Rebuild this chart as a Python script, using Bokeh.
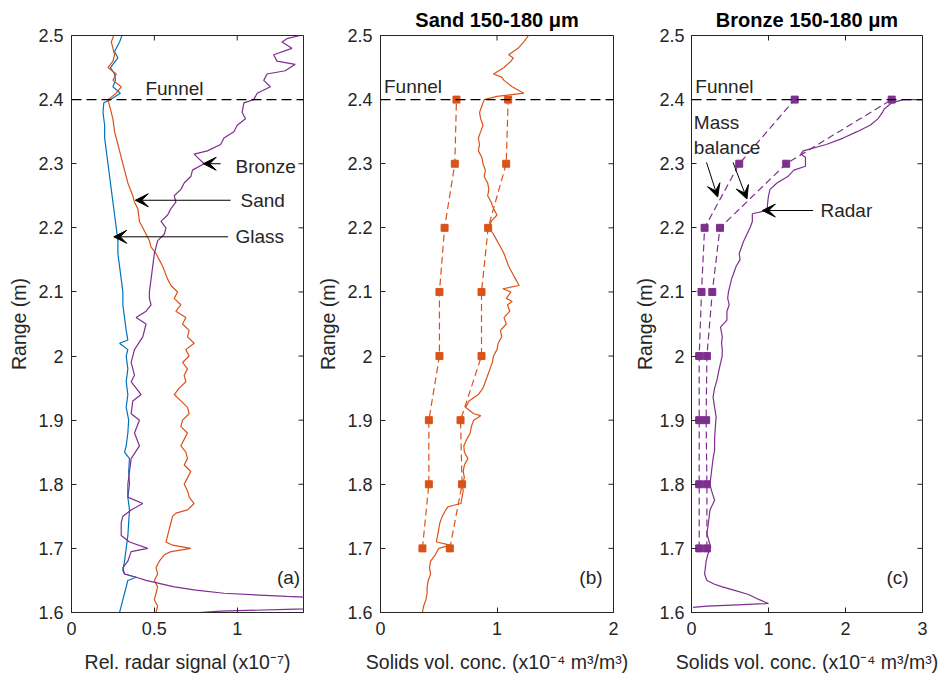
import math
from bokeh.plotting import figure
from bokeh.layouts import row
from bokeh.models import (Range1d, FixedTicker, CustomJSTickFormatter,
                          Arrow, VeeHead, Label, Span)
from bokeh.embed import file_html
from bokeh.resources import INLINE

# ---------------- data ----------------
y_ticks = [1.6, 1.7, 1.8, 1.9, 2.0, 2.1, 2.2, 2.3, 2.4, 2.5]
xa_ticks = [0, 0.5, 1]
xb_ticks = [0, 1, 2]
xc_ticks = [0, 1, 2, 3]
funnel_range = 2.4

# Panel (a): relative radar signal (x1e-7) vs range (m)
glass_y = [2.50, 2.49, 2.475, 2.465, 2.45, 2.44, 2.43, 2.42, 2.41, 2.40, 2.395, 2.38, 2.36, 2.34,
           2.32, 2.30, 2.28, 2.26, 2.24, 2.22, 2.20, 2.18, 2.16, 2.14, 2.12, 2.10, 2.08, 2.06,
           2.04, 2.025, 2.02, 2.01, 2.00, 1.98, 1.96, 1.94, 1.92, 1.90, 1.88, 1.86, 1.85, 1.84,
           1.82, 1.80, 1.78, 1.76, 1.74, 1.72, 1.70, 1.68, 1.665, 1.66, 1.655, 1.65, 1.64,
           1.63, 1.62, 1.61, 1.60]
glass_x = [0.305, 0.29, 0.26, 0.28, 0.235, 0.26, 0.265, 0.25, 0.295, 0.235, 0.195, 0.19, 0.20, 0.20,
           0.21, 0.22, 0.23, 0.24, 0.25, 0.26, 0.27, 0.28, 0.28, 0.29, 0.30, 0.31, 0.31, 0.32,
           0.33, 0.34, 0.29, 0.34, 0.33, 0.34, 0.33, 0.34, 0.33, 0.345, 0.34, 0.33, 0.32, 0.35,
           0.345, 0.35, 0.34, 0.35, 0.345, 0.34, 0.33, 0.32, 0.31, 0.32, 0.39, 0.34, 0.33,
           0.32, 0.31, 0.30, 0.29]

sand_a_y = [2.50, 2.49, 2.48, 2.47, 2.46, 2.45, 2.44, 2.43, 2.42, 2.41, 2.40, 2.39, 2.37, 2.35,
            2.33, 2.31, 2.29, 2.27, 2.25, 2.24, 2.23, 2.21, 2.20, 2.19, 2.18, 2.17, 2.16, 2.15,
            2.14, 2.12, 2.11, 2.10, 2.09, 2.08, 2.07, 2.06, 2.05, 2.04, 2.03, 2.02, 2.01, 2.00,
            1.99, 1.98, 1.97, 1.96, 1.95, 1.94, 1.93, 1.92, 1.91, 1.90, 1.89, 1.88, 1.87, 1.86,
            1.85, 1.84, 1.83, 1.82, 1.81, 1.80, 1.79, 1.78, 1.77, 1.76, 1.755, 1.75, 1.74, 1.73,
            1.72, 1.71, 1.705, 1.70, 1.695, 1.69, 1.68, 1.67, 1.66, 1.65, 1.64, 1.63, 1.62, 1.61,
            1.60]
sand_a_x = [0.255, 0.24, 0.25, 0.26, 0.25, 0.22, 0.27, 0.25, 0.30, 0.27, 0.22, 0.23, 0.25, 0.26,
            0.28, 0.30, 0.32, 0.34, 0.37, 0.38, 0.40, 0.41, 0.43, 0.45, 0.47, 0.48, 0.51, 0.53,
            0.55, 0.58, 0.60, 0.64, 0.62, 0.66, 0.63, 0.69, 0.67, 0.71, 0.70, 0.74, 0.69, 0.71,
            0.67, 0.70, 0.68, 0.69, 0.65, 0.62, 0.66, 0.70, 0.71, 0.67, 0.66, 0.70, 0.68, 0.66,
            0.69, 0.70, 0.68, 0.72, 0.70, 0.68, 0.70, 0.71, 0.74, 0.70, 0.63, 0.61, 0.60, 0.59,
            0.58, 0.57, 0.61, 0.72, 0.60, 0.56, 0.53, 0.51, 0.52, 0.50, 0.52, 0.51, 0.50, 0.52,
            0.51]

bronze_a_y = [2.50, 2.495, 2.49, 2.48, 2.47, 2.46, 2.455, 2.445, 2.44, 2.43, 2.42, 2.41, 2.40,
              2.395, 2.38, 2.37, 2.36, 2.35, 2.34, 2.33, 2.32, 2.315, 2.31, 2.30, 2.29, 2.28,
              2.27, 2.26, 2.25, 2.24, 2.23, 2.22, 2.21, 2.20, 2.19, 2.18, 2.17, 2.16, 2.14, 2.12,
              2.10, 2.09, 2.08, 2.07, 2.06, 2.05, 2.03, 2.01, 1.99, 1.97, 1.96, 1.94, 1.93, 1.91,
              1.90, 1.88, 1.86, 1.84, 1.82, 1.80, 1.78, 1.77, 1.76, 1.75, 1.74, 1.72, 1.71, 1.70,
              1.695, 1.68, 1.67, 1.66, 1.655, 1.65, 1.64, 1.635, 1.63, 1.625, 1.62, 1.615, 1.61,
              1.605, 1.602, 1.60]
bronze_a_x = [1.38, 1.30, 1.27, 1.33, 1.22, 1.24, 1.35, 1.29, 1.18, 1.16, 1.20, 1.12, 1.10,
              1.04, 1.03, 1.05, 1.00, 0.98, 0.92, 0.90, 0.82, 0.74, 0.76, 0.80, 0.73, 0.72,
              0.68, 0.66, 0.62, 0.63, 0.60, 0.58, 0.54, 0.57, 0.56, 0.52, 0.51, 0.50, 0.49, 0.48,
              0.47, 0.47, 0.48, 0.45, 0.39, 0.45, 0.43, 0.38, 0.36, 0.38, 0.36, 0.42, 0.37, 0.36,
              0.41, 0.38, 0.41, 0.36, 0.35, 0.34, 0.34, 0.43, 0.36, 0.31, 0.30, 0.30, 0.35, 0.46,
              0.36, 0.34, 0.31, 0.32, 0.39, 0.45, 0.62, 0.75, 0.92, 1.30, 1.80, 2.50, 2.00,
              1.30, 0.90, 0.77]

# Panel (b): sand, solids volume concentration (x1e-4 m3/m3)
mb_y = [1.7, 1.8, 1.9, 2.0, 2.1, 2.2, 2.3, 2.4]
sand_mb_low = [0.36, 0.415, 0.415, 0.506, 0.506, 0.55, 0.638, 0.652]
sand_mb_high = [0.595, 0.70, 0.687, 0.867, 0.867, 0.924, 1.079, 1.096]

sand_radar_y = [2.50, 2.49, 2.48, 2.47, 2.465, 2.46, 2.45, 2.44, 2.435, 2.43, 2.42, 2.41, 2.405,
                2.40, 2.39, 2.38, 2.37, 2.36, 2.35, 2.34, 2.33, 2.32, 2.31, 2.30, 2.29, 2.28,
                2.27, 2.26, 2.25, 2.24, 2.23, 2.22, 2.21, 2.20, 2.19, 2.18, 2.17, 2.16, 2.15,
                2.14, 2.13, 2.12, 2.11, 2.105, 2.10, 2.09, 2.085, 2.08, 2.07, 2.06, 2.05, 2.04,
                2.03, 2.02, 2.01, 2.00, 1.99, 1.98, 1.97, 1.96, 1.95, 1.94, 1.93, 1.92, 1.91,
                1.907, 1.90, 1.89, 1.88, 1.87, 1.86, 1.85, 1.84, 1.83, 1.82, 1.81, 1.80, 1.79,
                1.78, 1.77, 1.765, 1.76, 1.75, 1.74, 1.73, 1.72, 1.71, 1.705, 1.70, 1.69, 1.68,
                1.67, 1.66, 1.65, 1.64, 1.63, 1.62, 1.61, 1.60]
sand_radar_x = [1.27, 1.23, 1.18, 1.10, 1.14, 1.12, 1.06, 0.97, 1.04, 1.06, 1.13, 1.23, 1.00,
                0.89, 0.87, 0.85, 0.86, 0.88, 0.86, 0.84, 0.85, 0.84, 0.87, 0.88, 0.90, 0.89,
                0.92, 0.93, 0.92, 0.95, 0.97, 1.00, 0.95, 0.93, 0.97, 1.00, 1.03, 1.06, 1.08,
                1.10, 1.13, 1.16, 1.19, 1.05, 1.12, 1.08, 1.13, 1.09, 1.11, 1.06, 1.08, 1.03,
                1.04, 1.01, 1.00, 0.97, 0.96, 0.94, 0.92, 0.90, 0.88, 0.84, 0.76, 0.73, 0.80,
                0.86, 0.80, 0.78, 0.77, 0.74, 0.715, 0.72, 0.75, 0.72, 0.71, 0.72, 0.70, 0.71,
                0.70, 0.69, 0.58, 0.56, 0.53, 0.51, 0.50, 0.49, 0.48, 0.60, 0.50, 0.47, 0.43,
                0.42, 0.43, 0.41, 0.40, 0.40, 0.39, 0.37, 0.36]

# Panel (c): bronze
bronze_mb_low = [0.10, 0.10, 0.10, 0.10, 0.13, 0.17, 0.62, 1.34]
bronze_mb_high = [0.20, 0.20, 0.19, 0.20, 0.27, 0.37, 1.23, 2.60]

bronze_radar_y = [2.40, 2.40, 2.395, 2.39, 2.385, 2.38, 2.37, 2.36, 2.35, 2.34, 2.33, 2.32,
                  2.315, 2.31, 2.30, 2.296, 2.29, 2.28, 2.27, 2.26, 2.25, 2.24, 2.227, 2.222,
                  2.21, 2.20, 2.19, 2.18, 2.17, 2.16, 2.15, 2.14, 2.13, 2.12, 2.11, 2.10, 2.09,
                  2.08, 2.07, 2.056, 2.045, 2.03, 2.02, 2.01, 2.00, 1.98, 1.962, 1.95, 1.936,
                  1.92, 1.905, 1.89, 1.87, 1.853, 1.84, 1.82, 1.80, 1.79, 1.775, 1.76, 1.74,
                  1.723, 1.71, 1.702, 1.69, 1.68, 1.67, 1.66, 1.65, 1.644, 1.64, 1.635, 1.628,
                  1.62, 1.614, 1.612, 1.610, 1.608]
bronze_radar_x = [3.30, 2.75, 2.60, 2.55, 2.50, 2.48, 2.42, 2.32, 2.15, 1.97, 1.75, 1.45,
                  1.42, 1.48, 1.48, 1.48, 1.33, 1.25, 1.11, 1.02, 1.00, 0.99, 0.98, 0.79,
                  0.79, 0.76, 0.72, 0.68, 0.65, 0.62, 0.63, 0.58, 0.55, 0.52, 0.50, 0.48, 0.47,
                  0.49, 0.46, 0.46, 0.377, 0.40, 0.39, 0.40, 0.398, 0.36, 0.33, 0.30, 0.28,
                  0.30, 0.32, 0.31, 0.30, 0.30, 0.28, 0.26, 0.24, 0.26, 0.30, 0.24, 0.22,
                  0.20, 0.23, 0.25, 0.21, 0.19, 0.18, 0.17, 0.20, 0.30, 0.40, 0.55, 0.74,
                  0.88, 1.00, 0.60, 0.20, 0.02]

# ---------------- style ----------------
FONT = "Liberation Sans"
AX = "#262626"
BLUE = "#0072BD"
ORANGE = "#D95319"
PURPLE = "#7E2F8E"
TICK_FS = "18px"
LABEL_FS = "19.5px"
TEXT_FS = "19px"

fmt_code = "return String(Math.round(tick * 10) / 10);"


def style_axis(ax, ticks, label, tick_standoff, label_standoff):
    ax.ticker = FixedTicker(ticks=ticks)
    ax.formatter = CustomJSTickFormatter(code=fmt_code)
    ax.major_tick_in = 5
    ax.major_tick_out = 0
    ax.minor_tick_in = 0
    ax.minor_tick_out = 0
    ax.axis_line_color = AX
    ax.major_tick_line_color = AX
    ax.major_label_text_color = AX
    ax.major_label_text_font = FONT
    ax.major_label_text_font_size = TICK_FS
    ax.major_label_standoff = tick_standoff
    ax.axis_label = label
    ax.axis_label_text_font = FONT
    ax.axis_label_text_font_size = LABEL_FS
    ax.axis_label_text_font_style = "normal"
    ax.axis_label_text_color = AX
    ax.axis_label_standoff = label_standoff


def make_fig(width, left, right, xmax, xticks, xlabel, title, ytick_standoff=8, ylab_standoff=5):
    p = figure(width=width, height=681, x_range=Range1d(0, xmax), y_range=Range1d(1.6, 2.5),
               output_backend="svg", toolbar_location=None,
               min_border_left=left, min_border_right=right,
               min_border_top=35, min_border_bottom=69, title=title)
    p.title.text_font = FONT
    p.title.text_font_size = "20px"
    p.title.text_font_style = "bold"
    p.title.align = "center"
    p.title.text_color = "#000000"
    p.grid.visible = False
    p.outline_line_color = AX
    p.background_fill_color = "white"
    p.border_fill_color = "white"
    style_axis(p.xaxis[0], xticks, xlabel, 9, 13)
    style_axis(p.yaxis[0], y_ticks, "Range (m)", ytick_standoff, ylab_standoff)
    # inward tick marks on the top and right edges of the box (MATLAB style)
    p.ray(x=xticks, y=[y_ticks[-1]] * len(xticks), length=5, length_units="screen",
          angle=-math.pi / 2, line_color=AX, line_width=1)
    p.ray(x=[xmax] * len(y_ticks), y=y_ticks, length=5, length_units="screen",
          angle=math.pi, line_color=AX, line_width=1)
    p.add_layout(Span(location=funnel_range, dimension="width", line_color="black",
                      line_dash="10 5", line_width=1.2))
    return p


def text(p, x, y, s, align="left"):
    p.add_layout(Label(x=x, y=y, text=s, text_font=FONT, text_font_size=TEXT_FS,
                       text_color=AX, text_baseline="middle", text_align=align))


def arrow(p, x0, y0, x1, y1):
    p.add_layout(Arrow(end=VeeHead(size=13, fill_color="black", line_color="black"),
                       x_start=x0, y_start=y0, x_end=x1, y_end=y1,
                       line_color="black", line_width=1))


# ---- panel (a)
pa = make_fig(308, 71, 5, 1.4, xa_ticks, "Rel. radar signal (x10\u207b\u2077)", " ")
pa.line(glass_x, glass_y, line_color=BLUE, line_width=1.2)
pa.line(sand_a_x, sand_a_y, line_color=ORANGE, line_width=1.2)
pa.line(bronze_a_x, bronze_a_y, line_color=PURPLE, line_width=1.2)
text(pa, 0.446, 2.418, "Funnel")
arrow(pa, 0.90, 2.30, 0.795, 2.30)
text(pa, 0.99, 2.296, "Bronze")
arrow(pa, 0.96, 2.243, 0.385, 2.243)
text(pa, 1.02, 2.243, "Sand")
arrow(pa, 0.945, 2.186, 0.255, 2.186)
text(pa, 0.99, 2.186, "Glass")
text(pa, 1.38, 1.654, "(a)", align="right")

# ---- panel (b)
pb = make_fig(323, 72, 18, 2.0, xb_ticks, "Solids vol. conc. (x10\u207b\u2074 m\u00b3/m\u00b3)",
              "Sand 150-180 \u03bcm")
pb.line(sand_radar_x, sand_radar_y, line_color=ORANGE, line_width=1.2)
for xs in (sand_mb_low, sand_mb_high):
    pb.line(xs, mb_y, line_color=ORANGE, line_dash="7 4", line_width=1.2)
    pb.scatter(xs, mb_y, marker="square", size=7, fill_color=ORANGE, line_color=ORANGE)
text(pb, 0.03, 2.42, "Funnel")
text(pb, 1.906, 1.654, "(b)", align="right")

# ---- panel (c)
pc = make_fig(318, 60, 27, 3.0, xc_ticks, "Solids vol. conc. (x10\u207b\u2074 m\u00b3/m\u00b3)",
              "Bronze 150-180 \u03bcm", ytick_standoff=7, ylab_standoff=0)
pc.line(bronze_radar_x, bronze_radar_y, line_color=PURPLE, line_width=1.2)
for xs in (bronze_mb_low, bronze_mb_high):
    pc.line(xs, mb_y, line_color=PURPLE, line_dash="7 4", line_width=1.2)
    pc.scatter(xs, mb_y, marker="square", size=7, fill_color=PURPLE, line_color=PURPLE)
text(pc, 0.05, 2.42, "Funnel")
text(pc, 0.03, 2.365, "Mass")
text(pc, 0.03, 2.326, "balance")
arrow(pc, 0.195, 2.302, 0.34, 2.248)
arrow(pc, 0.54, 2.302, 0.72, 2.245)
arrow(pc, 1.58, 2.227, 0.92, 2.227)
text(pc, 1.675, 2.227, "Radar")
text(pc, 2.82, 1.654, "(c)", align="right")

layout = row(pa, pb, pc)
open("out.html", "w").write(file_html(layout, INLINE))
